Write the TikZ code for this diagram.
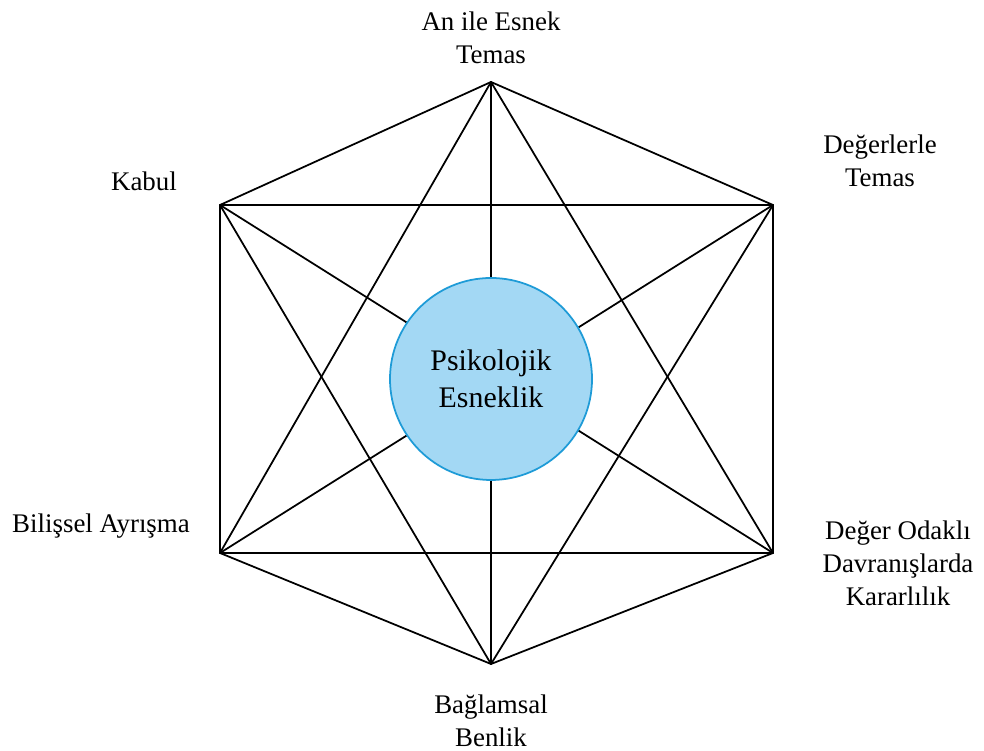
\documentclass[tikz,border=0pt]{standalone}
\usepackage{fontspec}
\setmainfont{Liberation Serif}
\usepackage{tkz-euclide}
\definecolor{CoreClr}{HTML}{A3D8F4}
\definecolor{CoreBrd}{HTML}{1E9BD7}

\tikzset{
  lbl/.style={align=center,inner sep=0pt,font=\fontsize{15.3}{18.8}\selectfont},
  core/.style={circle,draw=CoreBrd,fill=CoreClr,line width=1pt,minimum size=4.04cm,
    inner sep=0pt,align=center,font=\fontsize{17}{21}\selectfont}
}

\begin{document}
\begin{tikzpicture}
\useasboundingbox (0,0) rectangle (19.68,15.02);
\tkzSetUpLine[line width=1pt,color=black]

\tkzDefPoints{9.82/13.38/A,15.46/10.92/B,15.46/3.96/C,9.82/1.74/D,4.40/3.96/E,4.40/10.92/F}
\tkzDefPoints{9.82/7.44/O}

\tkzDrawPolygon(A,B,C,D,E,F)

\tkzDrawSegments(A,C B,D C,E D,F E,A F,B)
\tkzDrawSegments(A,D B,E C,F)

\node[core] (esneklik) at (O) {Psikolojik\\Esneklik};

\node[lbl] (temas) at (9.82,14.27) {An ile Esnek\\Temas};
\node[lbl] (degerler) at (17.60,11.80) {Değerlerle\\Temas};
\node[lbl] (kabul) at (2.88,11.40) {Kabul};
\node[lbl] (ayrisma) at (2.02,4.50) {Bilişsel Ayrışma};
\node[lbl] (kararlilik) at (17.96,3.76) {Değer Odaklı\\Davranışlarda\\Kararlılık};
\node[lbl] (benlik) at (9.82,0.60) {Bağlamsal\\Benlik};

\end{tikzpicture}
\end{document}
